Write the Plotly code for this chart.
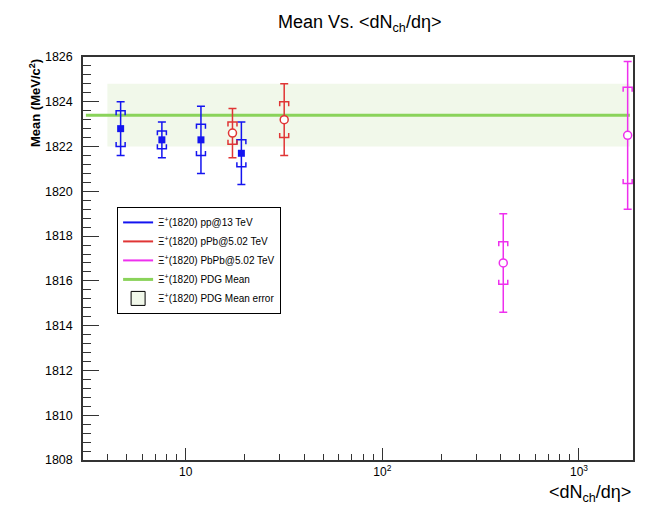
import plotly.graph_objects as go
import numpy as np

# ---- data ----
pp_x = [4.67, 7.57, 11.96, 19.2]
pp_y = [1822.8, 1822.3, 1822.3, 1821.7]
pp_stat = [1.2, 0.8, 1.5, 1.4]
pp_sys = [0.8, 0.4, 0.7, 0.6]

ppb_x = [17.3, 31.7]
ppb_y = [1822.6, 1823.2]
ppb_stat = [1.1, 1.6]
ppb_sys = [0.5, 0.8]

pbpb_x = [412.0, 1768.0]
pbpb_y = [1816.8, 1822.5]
pbpb_stat = [2.2, 3.3]
pbpb_sys = [0.95, 2.15]

pdg_mean = 1823.4
pdg_err = 1.4
pdg_line_x = [3.11, 1815.0]
pdg_band_x = [4.0, 1815.0]

y_ticks = [1808, 1810, 1812, 1814, 1816, 1818, 1820, 1822, 1824, 1826]
x_ticks = [10, 100, 1000]
x_ticktext = ["10", "10<sup>2</sup>", "10<sup>3</sup>"]
x_minor = [3, 4, 5, 6, 7, 8, 9, 20, 30, 40, 50, 60, 70, 80, 90,
           200, 300, 400, 500, 600, 700, 800, 900]

labels = ["Ξ<sup>+</sup>(1820) pp@13 TeV",
          "Ξ<sup>+</sup>(1820) pPb@5.02 TeV",
          "Ξ<sup>+</sup>(1820) PbPb@5.02 TeV",
          "Ξ<sup>+</sup>(1820) PDG Mean",
          "Ξ<sup>+</sup>(1820) PDG Mean error"]

# ---- styles ----
BLUE = "#1414f0"
RED = "#e03535"
MAG = "#ee30ee"
GREEN = "#8ad35a"
BAND = "#f1f8ea"
FONT = "Liberation Sans, Arial"
HALF_W = 10 ** (4.5 / 196.7)   # bracket half-width as multiplicative factor on log x
TICK = 0.2                     # bracket tick length in y units


def brackets(xs, ys, sys):
    bx, by = [], []
    for x, y, s in zip(xs, ys, sys):
        xl, xr = x / HALF_W, x * HALF_W
        top, bot = y + s, y - s
        bx += [xl, xl, xr, xr, None]
        by += [top - TICK, top, top, top - TICK, None]
        bx += [xl, xl, xr, xr, None]
        by += [bot + TICK, bot, bot, bot + TICK, None]
    return bx, by


fig = go.Figure()

# PDG band and mean line
fig.add_trace(go.Scatter(
    x=[pdg_band_x[0], pdg_band_x[1], pdg_band_x[1], pdg_band_x[0], pdg_band_x[0]],
    y=[pdg_mean - pdg_err, pdg_mean - pdg_err, pdg_mean + pdg_err, pdg_mean + pdg_err, pdg_mean - pdg_err],
    mode="lines", fill="toself", fillcolor=BAND, line=dict(width=0, color=BAND),
    showlegend=False, hoverinfo="skip"))
fig.add_trace(go.Scatter(x=pdg_line_x, y=[pdg_mean, pdg_mean], mode="lines",
                         line=dict(color=GREEN, width=3), showlegend=False))

series = [
    (pp_x, pp_y, pp_stat, pp_sys, BLUE, "square"),
    (ppb_x, ppb_y, ppb_stat, ppb_sys, RED, "circle"),
    (pbpb_x, pbpb_y, pbpb_stat, pbpb_sys, MAG, "circle"),
]
for xs, ys, st, sy, col, sym in series:
    bx, by = brackets(xs, ys, sy)
    fig.add_trace(go.Scatter(x=bx, y=by, mode="lines", line=dict(color=col, width=1.5),
                             showlegend=False, hoverinfo="skip"))
    if sym == "square":
        mk = dict(symbol="square", size=7, color=col, line=dict(width=0))
    else:
        mk = dict(symbol="circle", size=8, color="white", line=dict(color=col, width=1.5))
    fig.add_trace(go.Scatter(
        x=xs, y=ys, mode="markers", marker=mk,
        error_y=dict(type="data", array=st, visible=True, color=col, thickness=1.5, width=4),
        showlegend=False))

# legend entries
for lab, col in zip(labels[:4], [BLUE, RED, MAG, GREEN]):
    fig.add_trace(go.Scatter(x=[None], y=[None], mode="lines", name=lab,
                             line=dict(color=col, width=2 if col != GREEN else 3)))
fig.add_trace(go.Scatter(x=[None], y=[None], mode="markers", name=labels[4],
                         marker=dict(symbol="square", size=14, color=BAND,
                                     line=dict(color="black", width=1))))

fig.update_layout(
    width=649, height=511,
    margin=dict(l=83, r=16, t=57, b=51),
    paper_bgcolor="white", plot_bgcolor="white",
    font=dict(family=FONT, color="black"),
    showlegend=True,
    legend=dict(x=0.062, y=0.628, xanchor="left", yanchor="top",
                bgcolor="white", bordercolor="black", borderwidth=1,
                font=dict(size=10, family=FONT), tracegroupgap=0,
                itemwidth=30),
)

fig.update_xaxes(
    type="log", range=[np.log10(3.006), np.log10(1882)],
    showgrid=False, zeroline=False,
    showline=True, mirror=True, linecolor="#333", linewidth=1.5,
    ticks="inside", ticklen=12, tickcolor="#333", tickwidth=1,
    tickmode="array", tickvals=x_ticks, ticktext=x_ticktext,
    tickfont=dict(size=12, family=FONT),
    minor=dict(ticks="inside", ticklen=6, tickcolor="#333", tickmode="array",
               tickvals=x_minor, showgrid=False),
)
fig.update_yaxes(
    range=[1808, 1826], showgrid=False, zeroline=False,
    showline=True, mirror=True, linecolor="#333", linewidth=1.5,
    ticks="inside", ticklen=16, tickcolor="#333", tickwidth=1,
    tickmode="array", tickvals=y_ticks,
    tickfont=dict(size=12.5, family=FONT), ticklabelstandoff=6,
    minor=dict(ticks="inside", ticklen=8, tickcolor="#333", dtick=0.4, tick0=1808,
               showgrid=False),
)

# titles
fig.add_annotation(text="Mean Vs. &lt;dN<sub>ch</sub>/dη&gt;", xref="paper", yref="paper",
                   x=(359 - 83) / 550, y=1 + (57 - 23) / 403, xanchor="center", yanchor="middle",
                   showarrow=False, font=dict(size=18, family=FONT))
fig.add_annotation(text="&lt;dN<sub>ch</sub>/dη&gt;", xref="paper", yref="paper",
                   x=1.0, y=-(494 - 460) / 403, xanchor="right", yanchor="middle",
                   showarrow=False, font=dict(size=18, family=FONT))
fig.add_annotation(text="<b>Mean (MeV/c<sup>2</sup>)</b>", xref="paper", yref="paper",
                   x=(35 - 83) / 550, y=1.0, xanchor="center", yanchor="top",
                   textangle=-90, showarrow=False,
                   font=dict(size=13, family=FONT))

fig.write_html("out.html")
